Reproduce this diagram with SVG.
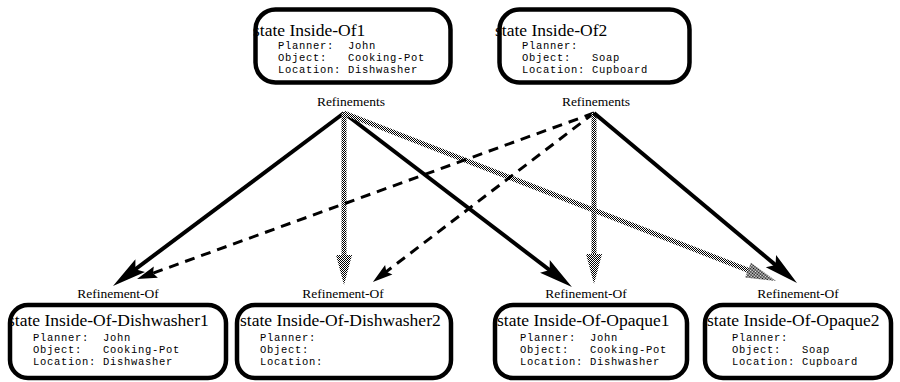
<svg xmlns="http://www.w3.org/2000/svg" width="900" height="382" viewBox="0 0 900 382">
  <style>
    .box { fill: #fff; stroke: #000; stroke-width: 4.5; }
    .title { font-family: "Liberation Serif", "Times New Roman", serif; font-size: 17.5px; fill: #000; }
    .slot { font-family: "Liberation Mono", "Courier New", monospace; font-size: 10.5px; letter-spacing: 0.7px; fill: #000; white-space: pre; }
    .lbl { font-family: "Liberation Serif", "Times New Roman", serif; font-size: 13.5px; fill: #000; text-anchor: middle; }
    .solid { stroke: #000; stroke-width: 4; fill: none; marker-end: url(#headSolid); }
    .dash { stroke: #000; stroke-width: 3; fill: none; stroke-dasharray: 10 7; marker-end: url(#headDash); }
    .dot { stroke: url(#checker); stroke-width: 5; fill: none; marker-end: url(#headDot); }
  </style>
  <defs>
    <pattern id="checker" patternUnits="userSpaceOnUse" width="2" height="2">
      <rect width="2" height="2" fill="#fff"/>
      <rect x="0" y="0" width="1" height="1" fill="#000"/>
      <rect x="1" y="1" width="1" height="1" fill="#000"/>
    </pattern>
    <marker id="headSolid" markerUnits="userSpaceOnUse" markerWidth="36" markerHeight="18" refX="19" refY="8" orient="auto" overflow="visible">
      <path d="M0,0 L34,8 L0,16 L6,8 z" fill="#000"/>
    </marker>
    <marker id="headDash" markerUnits="userSpaceOnUse" markerWidth="22" markerHeight="14" refX="11" refY="6" orient="auto" overflow="visible">
      <path d="M0,0 L20,6 L0,12 L3,6 z" fill="#000"/>
    </marker>
    <marker id="headDot" markerUnits="userSpaceOnUse" markerWidth="32" markerHeight="18" refX="15" refY="8" orient="auto" overflow="visible">
      <path d="M0,0 L30,8 L0,16 z" fill="url(#checker)"/>
    </marker>
  </defs>

  <!-- connectors -->
  <g id="connectors">
    <text class="lbl" x="351" y="106">Refinements</text>
    <text class="lbl" x="596" y="106">Refinements</text>
    <text class="lbl" x="118" y="298">Refinement-Of</text>
    <text class="lbl" x="343" y="298">Refinement-Of</text>
    <text class="lbl" x="586" y="298">Refinement-Of</text>
    <text class="lbl" x="798" y="298">Refinement-Of</text>

    <line class="solid" x1="344" y1="113" x2="125" y2="277"/>
    <line class="solid" x1="344" y1="113" x2="560" y2="278"/>
    <line class="dot" x1="344" y1="113" x2="344" y2="270"/>
    <line class="dot" x1="344" y1="113" x2="762" y2="275.6"/>

    <line class="dash" x1="594" y1="113" x2="145.5" y2="275.9"/>
    <line class="dash" x1="594" y1="113" x2="380" y2="276.5"/>
    <line class="dot" x1="594" y1="113" x2="594" y2="269"/>
    <line class="solid" x1="594" y1="113" x2="785.5" y2="273.4"/>
  </g>

  <!-- top states -->
  <g id="inside-of1">
    <rect class="box" x="255.5" y="9.5" width="195" height="73" rx="20"/>
    <text class="title" x="253" y="36">state Inside-Of1</text>
    <text class="slot" x="278" y="49">Planner:  John</text>
    <text class="slot" x="278" y="61">Object:   Cooking-Pot</text>
    <text class="slot" x="278" y="73">Location: Dishwasher</text>
  </g>
  <g id="inside-of2">
    <rect class="box" x="499.5" y="9.5" width="190" height="73" rx="20"/>
    <text class="title" x="495" y="36">state Inside-Of2</text>
    <text class="slot" x="522" y="49">Planner:</text>
    <text class="slot" x="522" y="61">Object:   Soap</text>
    <text class="slot" x="522" y="73">Location: Cupboard</text>
  </g>

  <!-- refined states -->
  <g id="inside-of-dishwasher1">
    <rect class="box" x="10" y="305" width="216" height="73" rx="18"/>
    <text class="title" x="8" y="326">state Inside-Of-Dishwasher1</text>
    <text class="slot" x="33" y="340.5">Planner:  John</text>
    <text class="slot" x="33" y="352.5">Object:   Cooking-Pot</text>
    <text class="slot" x="33" y="364.5">Location: Dishwasher</text>
  </g>
  <g id="inside-of-dishwasher2">
    <rect class="box" x="237" y="305" width="214" height="73" rx="18"/>
    <text class="title" x="240" y="326">state Inside-Of-Dishwasher2</text>
    <text class="slot" x="260" y="340.5">Planner:</text>
    <text class="slot" x="260" y="352.5">Object:</text>
    <text class="slot" x="260" y="364.5">Location:</text>
  </g>
  <g id="inside-of-opaque1">
    <rect class="box" x="495" y="305" width="192" height="73" rx="18"/>
    <text class="title" x="497" y="326">state Inside-Of-Opaque1</text>
    <text class="slot" x="520" y="340.5">Planner:  John</text>
    <text class="slot" x="520" y="352.5">Object:   Cooking-Pot</text>
    <text class="slot" x="520" y="364.5">Location: Dishwasher</text>
  </g>
  <g id="inside-of-opaque2">
    <rect class="box" x="705" y="305" width="186" height="73" rx="18"/>
    <text class="title" x="707" y="326">state Inside-Of-Opaque2</text>
    <text class="slot" x="732" y="340.5">Planner:</text>
    <text class="slot" x="732" y="352.5">Object:   Soap</text>
    <text class="slot" x="732" y="364.5">Location: Cupboard</text>
  </g>
</svg>
